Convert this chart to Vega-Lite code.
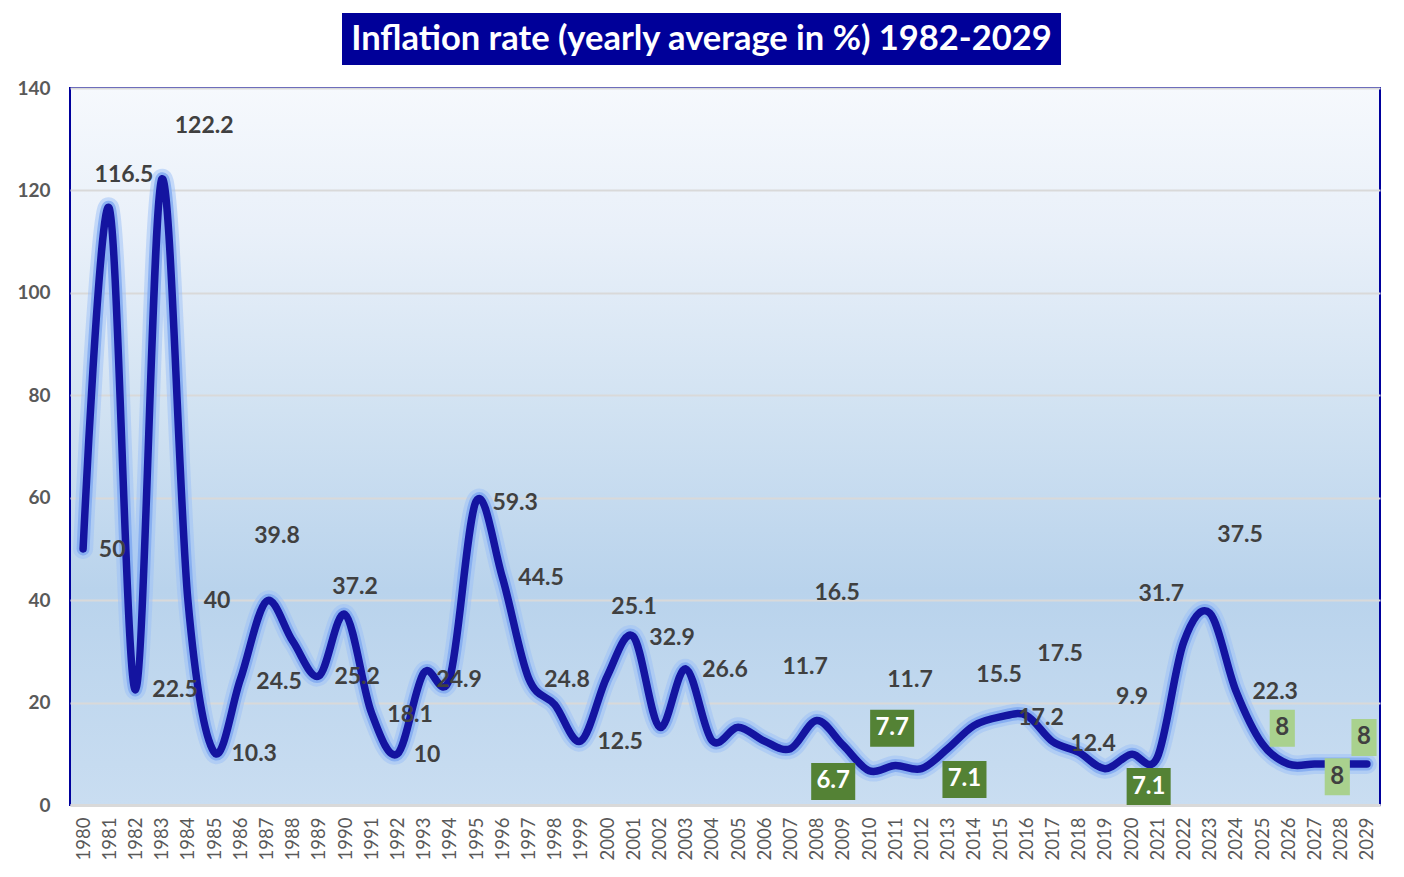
{
  "$schema": "https://vega.github.io/schema/vega-lite/v6.json",
  "background": "white",
  "padding": {"left": 15, "top": 13, "right": 20, "bottom": 5},
  "spacing": 13,
  "center": true,
  "datasets": {
    "inflation": [
      {"year":1980,"rate":50},{"year":1981,"rate":116.5},{"year":1982,"rate":22.5},{"year":1983,"rate":122.2},{"year":1984,"rate":40},{"year":1985,"rate":10.3},{"year":1986,"rate":24.5},{"year":1987,"rate":39.8},{"year":1988,"rate":32},{"year":1989,"rate":25.2},{"year":1990,"rate":37.2},{"year":1991,"rate":18.1},{"year":1992,"rate":10},{"year":1993,"rate":25.8},{"year":1994,"rate":24.9},{"year":1995,"rate":59.3},{"year":1996,"rate":44.5},{"year":1997,"rate":24.8},{"year":1998,"rate":19.6},{"year":1999,"rate":12.5},{"year":2000,"rate":25.1},{"year":2001,"rate":32.9},{"year":2002,"rate":15.2},{"year":2003,"rate":26.6},{"year":2004,"rate":12.6},{"year":2005,"rate":15.2},{"year":2006,"rate":12.5},{"year":2007,"rate":11},{"year":2008,"rate":16.5},{"year":2009,"rate":11.7},{"year":2010,"rate":6.7},{"year":2011,"rate":7.7},{"year":2012,"rate":7.1},{"year":2013,"rate":11},{"year":2014,"rate":15.5},{"year":2015,"rate":17.2},{"year":2016,"rate":17.5},{"year":2017,"rate":12.4},{"year":2018,"rate":10.3},{"year":2019,"rate":7.1},{"year":2020,"rate":9.9},{"year":2021,"rate":9.3},{"year":2022,"rate":31.7},{"year":2023,"rate":37.5},{"year":2024,"rate":22.3},{"year":2025,"rate":12},{"year":2026,"rate":8},{"year":2027,"rate":8},{"year":2028,"rate":8},{"year":2029,"rate":8}
    ],
    "labels": [
      {"lx":1981.11,"ly":49.8,"text":"50","kind":"plain"},
      {"lx":1981.56,"ly":123.0,"text":"116.5","kind":"plain"},
      {"lx":1984.62,"ly":132.6,"text":"122.2","kind":"plain"},
      {"lx":1983.51,"ly":22.5,"text":"22.5","kind":"plain"},
      {"lx":1985.11,"ly":39.8,"text":"40","kind":"plain"},
      {"lx":1986.53,"ly":10.0,"text":"10.3","kind":"plain"},
      {"lx":1987.40,"ly":52.5,"text":"39.8","kind":"plain"},
      {"lx":1987.48,"ly":24.0,"text":"24.5","kind":"plain"},
      {"lx":1990.38,"ly":42.6,"text":"37.2","kind":"plain"},
      {"lx":1990.46,"ly":25.0,"text":"25.2","kind":"plain"},
      {"lx":1992.48,"ly":17.6,"text":"18.1","kind":"plain"},
      {"lx":1993.13,"ly":9.8,"text":"10","kind":"plain"},
      {"lx":1994.35,"ly":24.4,"text":"24.9","kind":"plain"},
      {"lx":1996.49,"ly":59.0,"text":"59.3","kind":"plain"},
      {"lx":1997.48,"ly":44.3,"text":"44.5","kind":"plain"},
      {"lx":1998.47,"ly":24.4,"text":"24.8","kind":"plain"},
      {"lx":2000.50,"ly":12.3,"text":"12.5","kind":"plain"},
      {"lx":2001.03,"ly":38.7,"text":"25.1","kind":"plain"},
      {"lx":2002.48,"ly":32.6,"text":"32.9","kind":"plain"},
      {"lx":2004.50,"ly":26.4,"text":"26.6","kind":"plain"},
      {"lx":2007.56,"ly":27.0,"text":"11.7","kind":"plain"},
      {"lx":2008.78,"ly":41.4,"text":"16.5","kind":"plain"},
      {"lx":2008.63,"ly":4.6,"text":"6.7","kind":"low"},
      {"lx":2010.88,"ly":15.0,"text":"7.7","kind":"low"},
      {"lx":2011.56,"ly":24.4,"text":"11.7","kind":"plain"},
      {"lx":2013.64,"ly":5.0,"text":"7.1","kind":"low"},
      {"lx":2014.96,"ly":25.4,"text":"15.5","kind":"plain"},
      {"lx":2016.56,"ly":17.0,"text":"17.2","kind":"plain"},
      {"lx":2017.29,"ly":29.5,"text":"17.5","kind":"plain"},
      {"lx":2018.55,"ly":11.9,"text":"12.4","kind":"plain"},
      {"lx":2020.04,"ly":21.1,"text":"9.9","kind":"plain"},
      {"lx":2020.67,"ly":3.6,"text":"7.1","kind":"low"},
      {"lx":2021.15,"ly":41.2,"text":"31.7","kind":"plain"},
      {"lx":2024.16,"ly":52.7,"text":"37.5","kind":"plain"},
      {"lx":2025.50,"ly":22.1,"text":"22.3","kind":"plain"},
      {"lx":2025.77,"ly":15.0,"text":"8","kind":"forecast"},
      {"lx":2027.87,"ly":5.5,"text":"8","kind":"forecast"},
      {"lx":2028.89,"ly":13.2,"text":"8","kind":"forecast"}
    ],
    "title": [{"title": "Inflation rate (yearly average in %) 1982-2029"}]
  },
  "vconcat": [
    {
      "width": 719,
      "height": 52,
      "view": {"fill": "#000099", "stroke": null},
      "data": {"name": "title"},
      "mark": {"type": "text", "color": "white", "font": "Lato", "fontWeight": "bold", "fontSize": 34.5, "align": "center", "baseline": "middle", "dy": 1},
      "encoding": {
        "text": {"field": "title"},
        "y": {"datum": 0, "type": "quantitative", "scale": {"domain": [-1, 1], "nice": false, "zero": false},
          "axis": {"orient": "right", "labels": false, "ticks": false, "domain": false, "grid": false, "title": null, "minExtent": 48, "maxExtent": 48}}
      }
    },
    {
      "width": 1310,
      "height": 717,
      "view": {
        "fill": {"gradient": "linear", "x1": 0, "y1": 0, "x2": 0, "y2": 1,
          "stops": [
            {"offset": 0, "color": "#f6f9fd"},
            {"offset": 0.2, "color": "#e9f0f9"},
            {"offset": 0.45, "color": "#d1e2f2"},
            {"offset": 0.7, "color": "#b9d3ec"},
            {"offset": 1, "color": "#c9ddf1"}
          ]},
        "stroke": "#00009c",
        "strokeWidth": 2
      },
      "resolve": {"scale": {"x": "independent"}, "axis": {"x": "independent"}},
      "layer": [
        {
          "layer": [
            {
              "mark": {"type": "line", "interpolate": "cardinal", "color": "#9cc0f8", "strokeWidth": 20, "opacity": 0.5, "strokeCap": "round", "strokeJoin": "round"}
            },
            {
              "mark": {"type": "line", "interpolate": "cardinal", "color": "#7ea8f0", "strokeWidth": 13, "opacity": 0.8, "strokeCap": "round", "strokeJoin": "round"}
            },
            {
              "mark": {"type": "line", "interpolate": "cardinal", "color": "#1414a0", "strokeWidth": 7.5, "strokeCap": "round", "strokeJoin": "round"}
            }
          ],
          "data": {"name": "inflation"},
          "encoding": {
            "x": {"field": "year", "type": "ordinal", "title": null, "scale": {"type": "point", "padding": 0.5},
              "axis": {"labelAngle": -90, "labelOverlap": false}},
            "y": {"field": "rate", "type": "quantitative", "title": null, "scale": {"domain": [0, 140], "nice": false},
              "axis": {"values": [0, 20, 40, 60, 80, 100, 120, 140]}}
          }
        },
        {
          "data": {"name": "labels"},
          "encoding": {
            "x": {"field": "lx", "type": "quantitative", "title": null, "axis": null, "scale": {"domain": [1979.5, 2029.5], "nice": false, "zero": false}},
            "y": {"field": "ly", "type": "quantitative", "title": null}
          },
          "layer": [
            {
              "transform": [{"filter": "datum.kind === 'plain'"}],
              "mark": {"type": "text", "font": "Lato", "fontWeight": "bold", "fontSize": 23, "color": "#404040", "align": "center", "baseline": "middle"},
              "encoding": {"text": {"field": "text"}}
            },
            {
              "transform": [{"filter": "datum.kind === 'low'"}],
              "mark": {"type": "point", "shape": "M-1.19,-1L1.19,-1L1.19,1L-1.19,1Z", "size": 1369, "filled": true, "color": "#548235", "opacity": 1, "strokeWidth": 0}
            },
            {
              "transform": [{"filter": "datum.kind === 'low'"}],
              "mark": {"type": "text", "font": "Lato", "fontWeight": "bold", "fontSize": 24, "color": "white", "align": "center", "baseline": "middle"},
              "encoding": {"text": {"field": "text"}}
            },
            {
              "transform": [{"filter": "datum.kind === 'forecast'"}],
              "mark": {"type": "point", "shape": "M-0.68,-1L0.68,-1L0.68,1L-0.68,1Z", "size": 1369, "filled": true, "color": "#a9d18e", "opacity": 1, "strokeWidth": 0}
            },
            {
              "transform": [{"filter": "datum.kind === 'forecast'"}],
              "mark": {"type": "text", "font": "Lato", "fontWeight": "bold", "fontSize": 24, "color": "#404040", "align": "center", "baseline": "middle"},
              "encoding": {"text": {"field": "text"}}
            }
          ]
        }
      ]
    }
  ],
  "config": {
    "axisX": {
      "labelFont": "Lato",
      "labelFontSize": 18.5,
      "labelColor": "#595959",
      "labelPadding": 12,
      "ticks": false,
      "grid": false,
      "domainColor": "#d9d9d9",
      "domainWidth": 3,
      "labelFlush": false
    },
    "axisY": {
      "labelFont": "Lato",
      "labelFontSize": 19,
      "labelFontWeight": "bold",
      "labelColor": "#595959",
      "labelPadding": 20,
      "ticks": false,
      "domain": false,
      "grid": true,
      "gridColor": "#d9d9d9",
      "gridWidth": 2,
      "labelFlush": false
    }
  }
}
